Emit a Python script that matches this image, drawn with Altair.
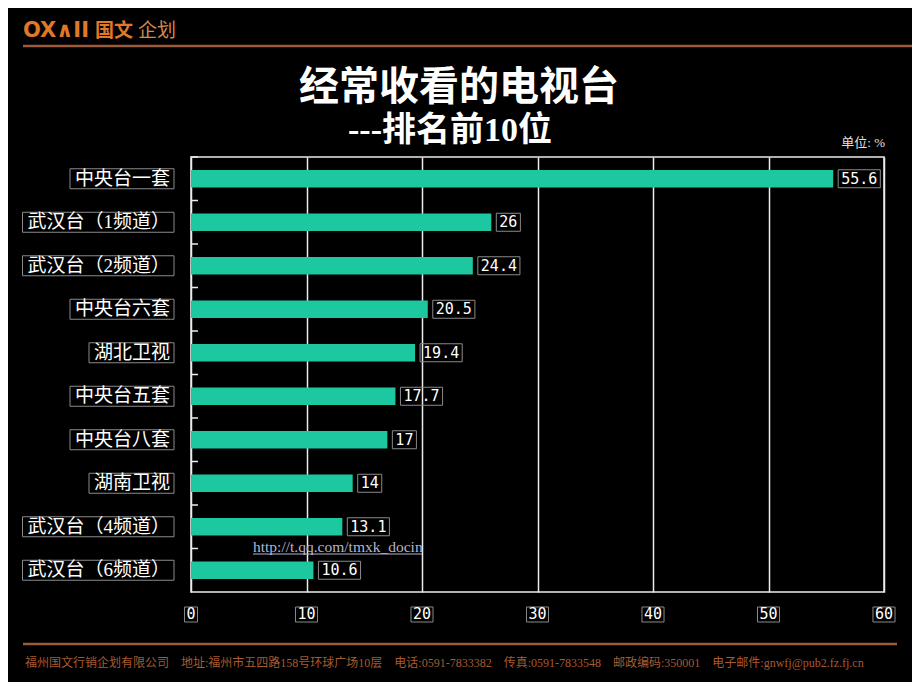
import altair as alt
import pandas as pd

cats = ["中央台一套", "武汉台（1频道）", "武汉台（2频道）", "中央台六套", "湖北卫视",
        "中央台五套", "中央台八套", "湖南卫视", "武汉台（4频道）", "武汉台（6频道）"]
vals = [55.6, 26, 24.4, 20.5, 19.4, 17.7, 17, 14, 13.1, 10.6]
val_labels = ["55.6", "26", "24.4", "20.5", "19.4", "17.7", "17", "14", "13.1", "10.6"]
x_ticks = [0, 10, 20, 30, 40, 50, 60]
x_tick_labels = ["0", "10", "20", "30", "40", "50", "60"]

title = "经常收看的电视台"
subtitle = "---排名前10位"
unit = "单位: %"
footer = ("福州国文行销企划有限公司\u3000地址:福州市五四路158号环球广场10层\u3000电话:0591-7833382"
          "\u3000传真:0591-7833548\u3000邮政编码:350001\u3000电子邮件:gnwfj@pub2.fz.fj.cn")
watermark = "http://t.qq.com/tmxk_docin"

W, H = 693, 435
PPU = W / 60.0
CAT_FS, VAL_FS = 19, 15
SERIF_CJK = "'Liberation Serif', 'Noto Sans CJK SC'"
MONO = "DejaVu Sans Mono"
P_INNER = 0.6
STEP = H / len(cats)


def text_width(s, fs, latin):
    return sum(fs if ord(c) > 255 else fs * latin for c in s)


df = pd.DataFrame({"cat": cats, "val": vals, "lab": val_labels})
df["cat_l"] = [-(21 + text_width(c, CAT_FS, 0.5) + 5) / PPU for c in cats]
df["cat_r"] = -17 / PPU
df["lab_l"] = df["val"] + 5 / PPU
df["lab_r"] = [v + (5 + text_width(l, VAL_FS, 0.602) + 6) / PPU for v, l in zip(vals, val_labels)]

dt = pd.DataFrame({"t": x_ticks, "lab": x_tick_labels})
dt["l"] = [t - (text_width(l, VAL_FS, 0.602) + 4) / 2 / PPU for t, l in zip(x_ticks, x_tick_labels)]
dt["r"] = [t + (text_width(l, VAL_FS, 0.602) + 4) / 2 / PPU for t, l in zip(x_ticks, x_tick_labels)]

xscale = alt.Scale(domain=[0, 60], nice=False, zero=True)
yscale = alt.Scale(paddingInner=P_INNER, paddingOuter=P_INNER / 2)
Y = alt.Y("cat:N", sort=cats, scale=yscale, axis=None)

base = alt.Chart(df)

bars = base.mark_bar(color="#1dc8a0").encode(
    x=alt.X("val:Q", scale=xscale,
            axis=alt.Axis(values=x_ticks, grid=True, gridColor="#ececec", gridWidth=1.5,
                          labels=False, ticks=False, domain=False, title=None)),
    y=Y,
)

# small inward ticks halfway between bars (top of each step)
ticks = base.mark_rule(color="#ececec", strokeWidth=1.5, yOffset=-STEP * P_INNER / 2).encode(
    y=alt.Y("cat:N", sort=cats, scale=yscale, axis=None, bandPosition=0),
    x=alt.value(0), x2=alt.value(7),
)

cat_box = base.mark_bar(height=20, fillOpacity=0, stroke="#8a8a8a", strokeWidth=1).encode(
    x=alt.X("cat_l:Q", scale=xscale), x2="cat_r:Q", y=Y)
cat_text = base.mark_text(align="right", baseline="middle", fontSize=CAT_FS, font=SERIF_CJK,
                          color="white").encode(x=alt.value(-21), y=Y, text="cat:N")

val_box = base.mark_bar(height=18, fillOpacity=0, stroke="#8a8a8a", strokeWidth=1).encode(
    x=alt.X("lab_l:Q", scale=xscale), x2="lab_r:Q", y=Y)
val_text = base.mark_text(align="left", baseline="middle", dx=8, fontSize=VAL_FS, font=MONO,
                          color="white").encode(x=alt.X("val:Q", scale=xscale), y=Y, text="lab:N")

tick_box = alt.Chart(dt).mark_rect(fillOpacity=0, stroke="#8a8a8a", strokeWidth=1).encode(
    x=alt.X("l:Q", scale=xscale), x2="r:Q", y=alt.value(H + 15), y2=alt.value(H + 30))
tick_text = alt.Chart(dt).mark_text(align="center", baseline="middle", fontSize=VAL_FS, font=MONO,
                                    color="white").encode(
    x=alt.X("t:Q", scale=xscale), y=alt.value(H + 22), text="lab:N")


def label(text, x, y, **kw):
    return alt.Chart(pd.DataFrame({"t": [text]})).mark_text(baseline="middle", **kw).encode(
        x=alt.value(x), y=alt.value(y), text="t:N")


def hline(x1, x2, y, color, width):
    return alt.Chart(pd.DataFrame({"t": [0]})).mark_rule(color=color, strokeWidth=width).encode(
        x=alt.value(x1), x2=alt.value(x2), y=alt.value(y))


LINE_C = "#9c5a3c"
annotations = [
    hline(-168, 740, -111, LINE_C, 2.5),
    hline(-168, 706, 487, LINE_C, 2.5),
    label("OX∧II", -168, -126, align="left", fontSize=21, fontWeight="bold",
          font="DejaVu Sans", color="#e0782a"),
    label("国文", -96, -126, align="left", fontSize=19, fontWeight="bold",
          font="Noto Sans CJK SC", color="#e0782a"),
    label("企划", -53, -126, align="left", fontSize=19, font="Noto Sans CJK SC", color="#d08a52"),
    label(title, 268, -69, align="center", fontSize=40, fontWeight="bold",
          font="Noto Sans CJK SC", color="white"),
    label(subtitle, 259, -26, align="center", fontSize=34, fontWeight="bold",
          font=SERIF_CJK, color="white"),
    label(unit, 694, -14, align="right", fontSize=13, font=SERIF_CJK, color="#e0e0e0"),
    label(footer, -166, 506, align="left", fontSize=12, font=SERIF_CJK, color="#a85a30"),
    label(watermark, 62, 390, align="left", fontSize=15.5, font="Liberation Serif", color="#b4b4d4"),
    hline(62, 231, 397, "#b4b4d4", 1),
]

chart = alt.layer(bars, ticks, cat_box, cat_text, val_box, val_text, tick_box, tick_text,
                  *annotations).properties(
    width=W, height=H,
    padding={"left": 183, "top": 149, "right": 28, "bottom": 90},
    autosize=alt.AutoSizeParams(type="none"),
    background="black",
).configure_view(stroke="#ececec", strokeWidth=1.5)

chart.save("out.html", embed_options={"renderer": "svg", "actions": False})
